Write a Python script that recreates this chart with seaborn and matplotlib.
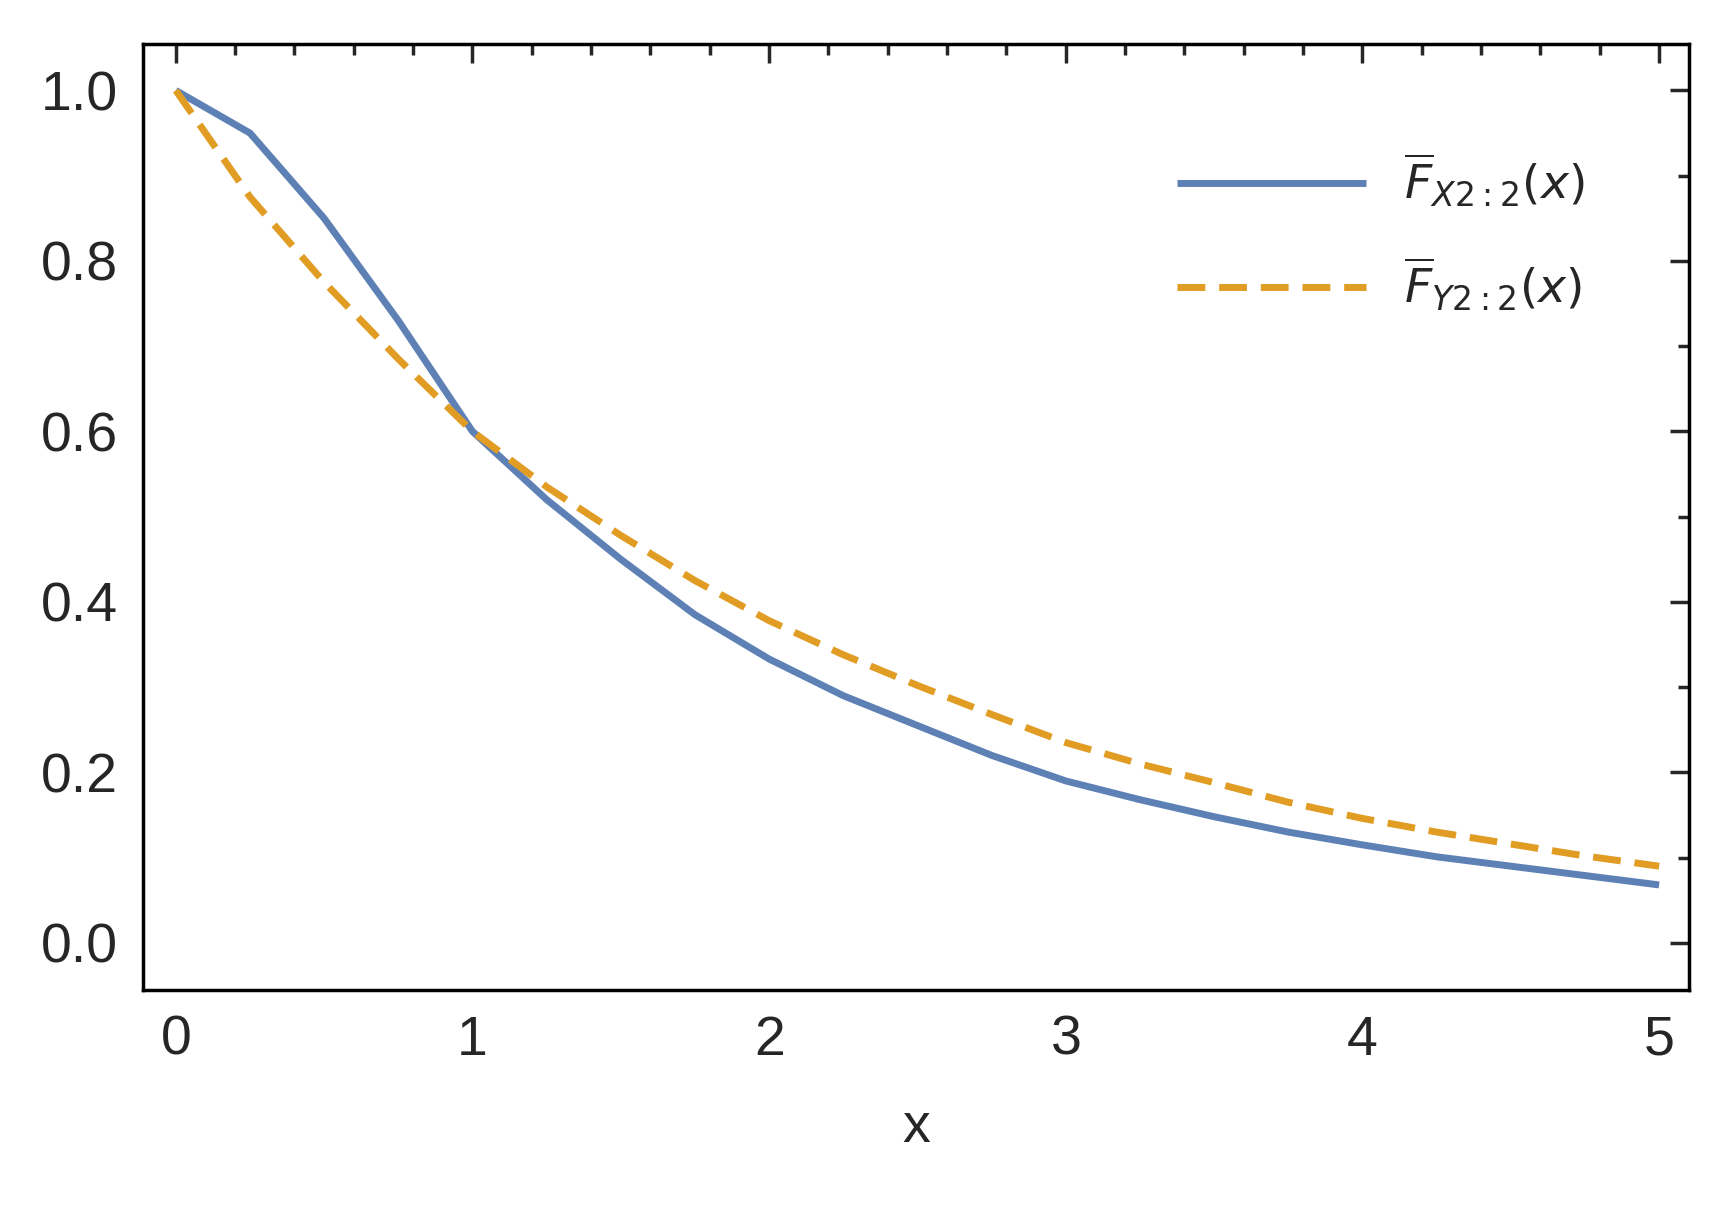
import matplotlib
matplotlib.use("Agg")
import matplotlib.pyplot as plt
import seaborn as sns
import pandas as pd
from matplotlib.ticker import MultipleLocator

x_vals = [0, 0.25, 0.5, 0.75, 1, 1.25, 1.5, 1.75, 2, 2.25, 2.5, 2.75, 3,
          3.25, 3.5, 3.75, 4, 4.25, 4.5, 4.75, 5]
fx_vals = [1.0, 0.95, 0.85, 0.73, 0.60, 0.52, 0.45, 0.385, 0.333, 0.29, 0.255,
           0.22, 0.19, 0.168, 0.148, 0.13, 0.115, 0.101, 0.09, 0.079, 0.068]
fy_vals = [1.0, 0.875, 0.775, 0.685, 0.60, 0.535, 0.478, 0.425, 0.378, 0.338,
           0.302, 0.268, 0.235, 0.21, 0.188, 0.165, 0.146, 0.13, 0.116, 0.102, 0.09]
labels = [r'$\overline{F}_{X2:2}(x)$', r'$\overline{F}_{Y2:2}(x)$']

sns.set_style("white")
plt.rcParams['font.family'] = ['Liberation Sans', 'DejaVu Sans']
plt.rcParams['mathtext.fontset'] = 'dejavusans'

df = pd.concat([
    pd.DataFrame({'x': x_vals, 'y': fx_vals, 's': labels[0]}),
    pd.DataFrame({'x': x_vals, 'y': fy_vals, 's': labels[1]}),
])

fig = plt.figure(figsize=(17.25, 12.1), dpi=100)
ax = fig.add_axes([0.083, 0.182, 0.896, 0.782])
sns.lineplot(data=df, x='x', y='y', hue='s', style='s',
             palette=['#5e81b5', '#e19c24'], dashes=[(1, 0), (4, 2)],
             linewidth=5, ax=ax)
ax.set_xlim(-0.11, 5.1)
ax.set_ylim(-0.055, 1.055)
ax.xaxis.set_major_locator(MultipleLocator(1))
ax.xaxis.set_minor_locator(MultipleLocator(0.2))
ax.yaxis.set_major_locator(MultipleLocator(0.2))
ax.yaxis.set_minor_locator(MultipleLocator(0.1))
ax.yaxis.set_major_formatter(matplotlib.ticker.FormatStrFormatter('%.1f'))
ax.tick_params(which='both', direction='in', top=True, right=True, width=2.5,
               labelsize=40, pad=18)
ax.tick_params(which='major', length=14)
ax.tick_params(which='minor', length=8)
for sp in ax.spines.values():
    sp.set_linewidth(2.5)
    sp.set_color('black')
ax.set_xlabel('x', fontsize=40, labelpad=25)
ax.set_ylabel('')
leg = ax.legend(title=None, frameon=False, fontsize=34, loc='upper right',
                bbox_to_anchor=(0.96, 0.93), handlelength=4, labelspacing=1.0)
fig.savefig('out.png', dpi=100)
